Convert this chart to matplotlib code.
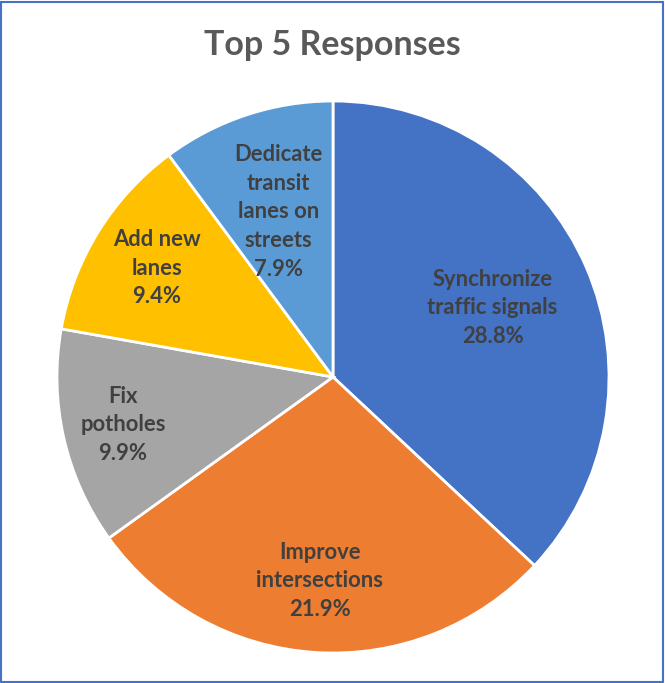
import numpy as np
import matplotlib.pyplot as plt
from matplotlib.patches import Rectangle

# Data (share of all responses, %)
categories = ['Synchronize\ntraffic signals', 'Improve\nintersections', 'Fix\npotholes',
              'Add new\nlanes', 'Dedicate\ntransit\nlanes on\nstreets']
values = [28.8, 21.9, 9.9, 9.4, 7.9]
colors = ['#4472C4', '#ED7D31', '#A5A5A5', '#FFC000', '#5B9BD5']
label_dist = [0.63, 0.74, 0.78, 0.75, 0.63]

plt.rcParams['font.family'] = ['Lato', 'DejaVu Sans']

fig = plt.figure(figsize=(6.65, 6.83), dpi=100)

# pie box: center (333, 377) px, radius ~276 px
W, H = 665, 683
cx, cy, r = 333, 377, 276
pad = 1.02
ax = fig.add_axes([(cx - r * pad) / W, (H - cy - r * pad) / H, 2 * r * pad / W, 2 * r * pad / H])

wedges, _ = ax.pie(values, colors=colors, startangle=90, counterclock=False,
                   radius=1, wedgeprops=dict(edgecolor='white', linewidth=2))
ax.set_xlim(-pad, pad)
ax.set_ylim(-pad, pad)
ax.set_aspect('equal')

for w, lab, v, d in zip(wedges, categories, values, label_dist):
    ang = np.deg2rad((w.theta1 + w.theta2) / 2)
    ax.text(d * np.cos(ang), d * np.sin(ang), f'{lab}\n{v:.1f}%',
            ha='center', va='center', fontsize=15.8, fontweight='bold',
            color='#404040', linespacing=1.45)

fig.text(0.5, 1 - 45 / H, 'Top 5 Responses', ha='center', va='center',
         fontsize=24.5, fontweight='bold', color='#595959')

# chart border
fig.patches.append(Rectangle((1 / W, 1 / H), 1 - 3 / W, 1 - 3 / H, transform=fig.transFigure,
                             fill=False, edgecolor='#4472C4', linewidth=1.5))

plt.savefig('out.png', dpi=100)
